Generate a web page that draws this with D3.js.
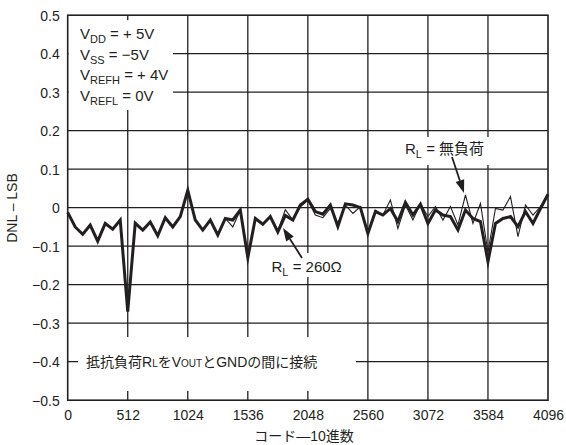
<!DOCTYPE html>
<html><head><meta charset="utf-8">
<script src="https://cdn.jsdelivr.net/npm/d3@7"></script>
<style>
html,body{margin:0;padding:0;background:#fff;}
svg{display:block;}
text{font-family:"Liberation Sans",Arial,"Noto Sans CJK JP",sans-serif;fill:#231f20;}
</style></head>
<body><svg id="c" width="566" height="445"></svg>
<script>
// ---- data ----
const codes = d3.range(0, 4097, 64);
const dnlLoad260 = [
 -0.012,-0.050,-0.069,-0.045,-0.087,-0.041,-0.056,-0.032,
 -0.270,-0.040,-0.058,-0.037,-0.073,-0.026,-0.050,-0.023,
  0.045,-0.032,-0.058,-0.032,-0.071,-0.028,-0.032,-0.006,
 -0.130,-0.028,-0.043,-0.023,-0.063,-0.020,-0.032, 0.007,
  0.022,-0.010,-0.017, 0.007,-0.049, 0.010, 0.007, 0.000,
 -0.067,-0.010,-0.019,-0.002,-0.036, 0.014,-0.019, 0.009,
 -0.041,-0.006,-0.019,-0.023,-0.058,-0.006,-0.028,-0.036,
 -0.140,-0.041,-0.028,-0.023,-0.049,-0.010,-0.041,-0.002,
  0.035];
const dnlNoLoad = [
 -0.012,-0.050,-0.069,-0.045,-0.087,-0.041,-0.056,-0.032,
 -0.265,-0.040,-0.058,-0.037,-0.073,-0.026,-0.050,-0.023,
  0.045,-0.032,-0.058,-0.032,-0.071,-0.028,-0.050,-0.006,
 -0.125,-0.028,-0.043,-0.023,-0.060,-0.005,-0.032, 0.002,
  0.020,-0.019,-0.026,-0.002,-0.040, 0.007,-0.015, 0.003,
 -0.065,-0.006,-0.019, 0.020,-0.054, 0.007,-0.032, 0.011,
 -0.023, 0.003,-0.032, 0.003,-0.045, 0.033,-0.041, 0.011,
 -0.115,-0.002,-0.006, 0.029,-0.075, 0.007,-0.019, 0.003,
  0.035];
const xTicks = [0,512,1024,1536,2048,2560,3072,3584,4096];
const xTickLabels = ["0","512","1024","1536","2048","2560","3072","3584","4096"];
const yTicks = [0.5,0.4,0.3,0.2,0.1,0,-0.1,-0.2,-0.3,-0.4,-0.5];
const yTickLabels = ["0.5","0.4","0.3","0.2","0.1","0","\u22120.1","\u22120.2","\u22120.3","\u22120.4","\u22120.5"];
const condLines = [
  {main:"V", sub:"DD", rest:" = + 5V"},
  {main:"V", sub:"SS", rest:" = \u22125V"},
  {main:"V", sub:"REFH", rest:" = + 4V"},
  {main:"V", sub:"REFL", rest:" = 0V"}
];

// ---- layout ----
const svg = d3.select("#c");
const L = 67.7, R = 548, T = 15.2, B = 400.2;
const x = d3.scaleLinear().domain([0,4096]).range([L,R]);
const y = d3.scaleLinear().domain([-0.5,0.5]).range([B,T]);
const ink = "#231f20";

// grid
const g = svg.append("g");
g.selectAll("line.v").data(xTicks.slice(1,-1)).enter().append("line")
  .attr("x1",d=>x(d)).attr("x2",d=>x(d)).attr("y1",T).attr("y2",B)
  .attr("stroke",ink).attr("stroke-width",1.3);
g.selectAll("line.h").data(yTicks.slice(1,-1)).enter().append("line")
  .attr("x1",L).attr("x2",R).attr("y1",d=>y(d)).attr("y2",d=>y(d))
  .attr("stroke",ink).attr("stroke-width",1.3);

// white label backgrounds
svg.append("rect").attr("x",L+0.8).attr("y",T+5).attr("width",173-L-0.8).attr("height",110-T-5).attr("fill","#fff");
svg.append("rect").attr("x",78).attr("y",337).attr("width",278).attr("height",54).attr("fill","#fff");
svg.append("rect").attr("x",268).attr("y",253).attr("width",82).attr("height",24).attr("fill","#fff");
svg.append("rect").attr("x",400).attr("y",137).attr("width",92).attr("height",28).attr("fill","#fff");

// lines
const line = (vals)=>d3.line().x((d,i)=>x(codes[i])).y(d=>y(d))(vals);
svg.append("path").attr("d",line(dnlNoLoad)).attr("fill","none").attr("stroke",ink).attr("stroke-width",1.1).attr("stroke-linejoin","miter");
svg.append("path").attr("d",line(dnlLoad260)).attr("fill","none").attr("stroke",ink).attr("stroke-width",3).attr("stroke-linejoin","miter").attr("stroke-miterlimit",6);

// frame
svg.append("rect").attr("x",L).attr("y",T).attr("width",R-L).attr("height",B-T)
  .attr("fill","none").attr("stroke",ink).attr("stroke-width",1.6);

// axes labels
const xa = svg.append("g").attr("transform",`translate(0,${B})`)
  .call(d3.axisBottom(x).tickValues(xTicks).tickSize(0).tickPadding(0).tickFormat((d,i)=>xTickLabels[i]));
xa.select(".domain").remove();
xa.selectAll("text").attr("y",20).attr("dy",null).attr("font-size",14).style("font-family",'"Liberation Sans",Arial,sans-serif').attr("fill",ink);
const ya = svg.append("g").attr("transform",`translate(${L},0)`)
  .call(d3.axisLeft(y).tickValues(yTicks).tickSize(0).tickPadding(8).tickFormat((d,i)=>yTickLabels[i]));
ya.select(".domain").remove();
ya.selectAll("text").attr("font-size",14).attr("dy","0.36em").style("font-family",'"Liberation Sans",Arial,sans-serif').attr("fill",ink);

svg.append("text").attr("x",304).attr("y",441).attr("text-anchor","middle").attr("font-size",14).text("コード\u201410進数");
svg.append("text").attr("transform","translate(17,208) rotate(-90)").attr("text-anchor","middle").attr("font-size",14).text("DNL \u2013 LSB");

// conditions
condLines.forEach((c,i)=>{
  const t = svg.append("text").attr("x",80).attr("y",[39,60,80,100.5][i]).attr("font-size",15);
  t.append("tspan").text(c.main);
  t.append("tspan").attr("font-size",11).attr("dy",4).text(c.sub);
  t.append("tspan").attr("dy",-4).text(c.rest);
});

// bottom note
const nt = svg.append("text").attr("x",86).attr("y",367).attr("font-size",14);
nt.append("tspan").text("抵抗負荷R");
nt.append("tspan").attr("font-size",10).text("L");
nt.append("tspan").text("をV");
nt.append("tspan").attr("font-size",10).text("OUT");
nt.append("tspan").text("とGNDの間に接続");

// annotations
function rl(xp, yp, rest){
  const t = svg.append("text").attr("x",xp).attr("y",yp).attr("font-size",15);
  t.append("tspan").text("R");
  t.append("tspan").attr("font-size",11).attr("dy",4).text("L");
  t.append("tspan").attr("dy",-4).text(rest);
}
rl(271.5, 272, " = 260\u03a9");
rl(405, 154, " = 無負荷");

function arrow(x1,y1,x2,y2){
  const ang = Math.atan2(y2-y1,x2-x1), hl=13, hw=4.5;
  const bx = x2-hl*Math.cos(ang), by = y2-hl*Math.sin(ang);
  svg.append("line").attr("x1",x1).attr("y1",y1).attr("x2",bx).attr("y2",by).attr("stroke",ink).attr("stroke-width",1.8);
  const px=-Math.sin(ang)*hw, py=Math.cos(ang)*hw;
  svg.append("path").attr("d",`M${x2},${y2}L${bx+px},${by+py}L${bx-px},${by-py}Z`).attr("fill",ink);
}
arrow(302,258,283,228);
arrow(452,157,464,193);
</script></body></html>
